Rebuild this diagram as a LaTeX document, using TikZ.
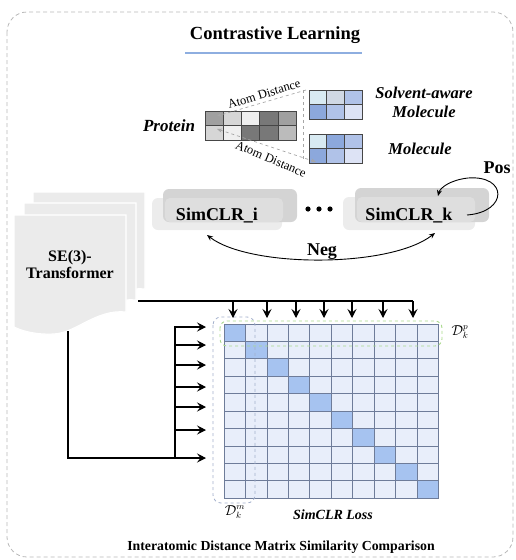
\documentclass[tikz,border=0pt]{standalone}
\usepackage{fontspec}
\setmainfont{Liberation Serif}
\usetikzlibrary{arrows.meta}
\definecolor{cellfill}{HTML}{E8EEFA}
\definecolor{celldiag}{HTML}{A6C3F0}
\definecolor{cellline}{HTML}{6E7C99}
\definecolor{ulblue}{HTML}{8EAEE0}
\definecolor{dashgreen}{HTML}{A9D98C}
\definecolor{dashblue}{HTML}{A3B0CC}
\definecolor{pagefill}{HTML}{EBEBEB}
\definecolor{boxA}{HTML}{ECECEC}
\definecolor{boxB}{HTML}{D4D4D4}
\definecolor{boxC}{HTML}{DEDEDE}
\definecolor{pa}{HTML}{A0A0A0}
\definecolor{pb}{HTML}{D6D6D6}
\definecolor{pc}{HTML}{EFEFEF}
\definecolor{pd}{HTML}{787878}
\definecolor{pe}{HTML}{BBBBBB}
\definecolor{ma}{HTML}{D8EAF2}
\definecolor{mb}{HTML}{D0D8E4}
\definecolor{mc}{HTML}{B0C2E8}
\definecolor{md}{HTML}{8CA8DC}
\definecolor{me}{HTML}{DDE3F5}
\tikzset{
  lbl/.style={inner sep=0pt},
  bigbold/.style={lbl,font=\fontsize{18}{21}\selectfont\bfseries},
  itlabel/.style={lbl,font=\fontsize{16.5}{19}\selectfont\bfseries\itshape},
  atomlbl/.style={lbl,font=\fontsize{12.5}{14}\selectfont},
  pagebox/.style={fill=pagefill,draw=white,line width=1.2pt},
  conn/.style={line width=1.1pt,-{Stealth[length=9pt,width=9pt,inset=3.5pt]}},
  plainline/.style={line width=1.1pt},
  curvearrow/.style={line width=0.9pt,{Stealth[length=6pt,width=5pt]}-{Stealth[length=6pt,width=5pt]}},
  gdash/.style={draw=gray!70,dashed,line width=0.7pt},
  gtip/.style={-{Stealth[length=5pt,width=4pt]}},
  gridcell/.style={draw=gray!55!black,line width=0.6pt},
  mcell/.style={draw=gray!55!black,line width=0.6pt},
  dlabel/.style={lbl,font=\fontsize{13.5}{15}\selectfont},
}
\begin{document}
\begin{tikzpicture}[x=1pt,y=-1pt]
\useasboundingbox (0,0) rectangle (515,560);
% outer frame
\draw[draw=gray!55,dash pattern=on 4pt off 3pt,line width=0.8pt,rounded corners=20pt] (7,12) rectangle (513,557);

% title
\node[lbl,font=\fontsize{18.5}{22}\selectfont\bfseries] (title) at (275,35) {Contrastive Learning};
\draw[ulblue,line width=2.5pt] (185,53) -- (362,53);

% protein grid
\foreach \c [count=\i from 0] in {pa,pb,pc,pd,pa} {
  \draw[gridcell,fill=\c] (205+18.2*\i,111) rectangle ++(18.2,14.5);
}
\foreach \c [count=\i from 0] in {pb,pc,pd,pd,pe} {
  \draw[gridcell,fill=\c] (205+18.2*\i,125.5) rectangle ++(18.2,14.5);
}
\coordinate (protTop) at (217,116);
\coordinate (protBot) at (217,129);
% solvent-aware grid
\foreach \c [count=\i from 0] in {ma,mb,mc} {
  \draw[mcell,fill=\c] (309+17.7*\i,90) rectangle ++(17.7,14.5);
}
\foreach \c [count=\i from 0] in {md,mc,me} {
  \draw[mcell,fill=\c] (309+17.7*\i,104.5) rectangle ++(17.7,14.5);
}
% molecule grid
\foreach \c [count=\i from 0] in {ma,md,mc} {
  \draw[mcell,fill=\c] (309+17.7*\i,134) rectangle ++(17.7,14.5);
}
\foreach \c [count=\i from 0] in {md,mc,me} {
  \draw[mcell,fill=\c] (309+17.7*\i,148.5) rectangle ++(17.7,14.5);
}
\coordinate (saCorner) at (306,90);
\coordinate (vTop) at (303,90);
\coordinate (vBot) at (303,161);
\coordinate (molCorner) at (316,162);
\draw[gdash,gtip] (saCorner) -- (protTop);
\draw[gdash] (vTop) -- (vBot);
\draw[gdash,{Stealth[length=5pt,width=4pt]}-{Stealth[length=5pt,width=4pt]}] (protBot) -- (molCorner);
\node[atomlbl,rotate=17] (ad1) at (264,94) {Atom Distance};
\node[atomlbl,rotate=-23] (ad2) at (271,159) {Atom Distance};

\node[lbl,font=\fontsize{17}{20}\selectfont\bfseries\itshape] (protein) at (169,126) {Protein};
\node[itlabel] (solv1) at (424,93) {Solvent-aware};
\node[itlabel] (solv2) at (424,112) {Molecule};
\node[itlabel] (mol) at (420,149) {Molecule};

% SimCLR boxes
\fill[boxA,rounded corners=6pt] (152,198) rectangle (282,230);
\fill[boxB,rounded corners=6pt] (163,189) rectangle (297,222);
\fill[boxC,rounded corners=5pt] (165,198) rectangle (283,222);
\fill[boxA,rounded corners=6pt] (343,197) rectangle (475,230);
\fill[boxB,rounded corners=6pt] (355,188) rectangle (489,222);
\fill[boxC,rounded corners=5pt] (357,197) rectangle (475,222);
\node[bigbold] (simi) at (217,216) {SimCLR\_i};
\node[bigbold] (simk) at (409,216) {SimCLR\_k};
\foreach \x [count=\n] in {308,319,330} \fill (\x,209) circle (2.6pt) coordinate (dot\n);

% Neg arrow
\coordinate (negL) at (207,235);
\coordinate (negR) at (435,233);
\draw[curvearrow] (negL) .. controls (250,268) and (390,268) .. (negR);
\node[bigbold] (neg) at (322,252) {Neg};
% Pos arrow
\coordinate (posS) at (467,215);
\coordinate (posTop) at (468,178);
\coordinate (posE) at (438,196);
\draw[line width=0.9pt,-{Stealth[length=6pt,width=5pt]}] (posS) .. controls (508,212) and (508,175) .. (posTop) .. controls (450,180) and (440,188) .. (posE);
\node[bigbold] (pos) at (497,168) {Pos};

% SE(3)-Transformer pages
\begin{scope}[shift={(33,192)}]
\path[pagebox] (0,0) -- (112,0) -- (112,97) .. controls (82,94) and (62,118) .. (40,119) .. controls (22,120) and (8,116) .. (0,112) -- cycle;
\end{scope}
\begin{scope}[shift={(24,203)}]
\path[pagebox] (0,0) -- (112,0) -- (112,97) .. controls (82,94) and (62,118) .. (40,119) .. controls (22,120) and (8,116) .. (0,112) -- cycle;
\end{scope}
\begin{scope}[shift={(14,215)}]
\path[pagebox] (0,0) -- (112,0) -- (112,97) .. controls (82,94) and (62,118) .. (40,119) .. controls (22,120) and (8,116) .. (0,112) -- cycle;
\end{scope}
\node[lbl,font=\fontsize{16}{17}\selectfont\bfseries,align=center] (se3) at (70,265) {SE(3)-\\Transformer};

% matrix
\fill[cellfill] (224,324) rectangle (438.7,498.3);
\foreach \i in {0,...,9} {
  \fill[celldiag] (224+21.47*\i,324+17.43*\i) rectangle ++(21.47,17.43);
}
\foreach \i in {0,...,10} {
  \draw[cellline,line width=0.8pt] (224+21.47*\i,324) -- (224+21.47*\i,498.3);
  \draw[cellline,line width=0.8pt] (224,324+17.43*\i) -- (438.7,324+17.43*\i);
}
% dashed groups
\draw[dashblue,dashed,line width=0.8pt,rounded corners=8pt] (213,317) rectangle (255,503);
\draw[dashgreen,dashed,line width=0.9pt,rounded corners=7pt] (220,321) rectangle (442,346);
\node[dlabel] (dkp) at (460,332) {$\mathcal{D}_k^p$};
\node[dlabel] (dkm) at (235,512) {$\mathcal{D}_k^m$};
\node[lbl,font=\fontsize{14}{16}\selectfont\bfseries\itshape] (loss) at (333,515) {SimCLR Loss};
\node[lbl,font=\fontsize{13.8}{16}\selectfont\bfseries] (caption) at (281,547) {Interatomic Distance Matrix Similarity Comparison};

% top bus with down arrows
\coordinate (busL) at (138,301);
\coordinate (busR) at (413,301);
\draw[plainline] (busL) -- (busR);
\foreach \x [count=\n] in {233,267,296,324,352,383,413} {
  \coordinate (top\n) at (\x,301);
  \coordinate (tip\n) at (\x,318);
  \draw[conn] (top\n) -- (tip\n);
}
% left bus with right arrows
\coordinate (se3bot) at (68,331);
\coordinate (corner) at (68,458);
\coordinate (vbusTop) at (175,326);
\coordinate (vbusBot) at (175,458);
\draw[plainline] (se3bot) -- (corner) -- (vbusBot);
\draw[plainline] (vbusTop) -- (vbusBot);
\foreach \y [count=\n] in {327,345,365,387,407,430,458} {
  \coordinate (lft\n) at (175,\y);
  \coordinate (rt\n) at (206,\y);
  \draw[conn] (lft\n) -- (rt\n);
}
\end{tikzpicture}
\end{document}
